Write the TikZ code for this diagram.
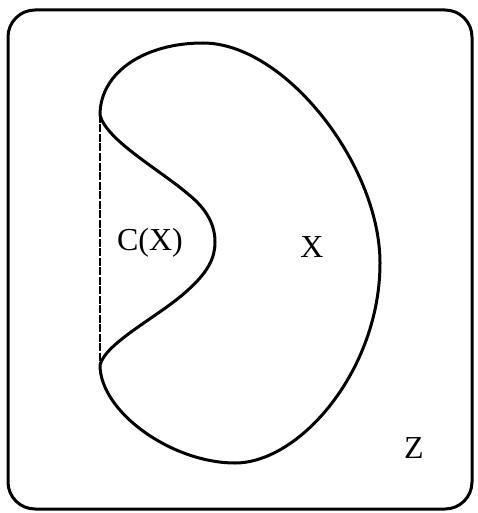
\documentclass[tikz,border=0pt]{standalone}
\usepackage{fontspec}
\setmainfont{Liberation Serif}
\begin{document}
\begin{tikzpicture}[x=1pt,y=-1pt,
  outline/.style={draw=black,line width=3pt},
  chord/.style={draw=black,line width=2.6pt,dash pattern=on 8pt off 1.5pt},
  lbl/.style={font=\fontsize{32}{36}\selectfont,anchor=base,inner sep=0pt}]
\useasboundingbox (0,0) rectangle (477,513);
\draw[outline,rounded corners=27pt] (8,10) rectangle (472,509);
\coordinate (A) at (100,115);
\coordinate (B) at (100,365);
\coordinate (R) at (215,242);
\draw[outline,line join=round]
  (A) .. controls (100,72) and (145,43) .. (203,43)
      .. controls (285,43) and (380,165) .. (380,263)
      .. controls (380,370) and (300,463) .. (235,463)
      .. controls (172,463) and (100,412) .. (B)
      .. controls (106,342) and (160,316) .. (188,290)
      .. controls (208,272) and (215,258) .. (R)
      .. controls (215,226) and (208,210) .. (188,194)
      .. controls (160,170) and (106,140) .. (A) -- cycle;
\draw[chord] (A) -- (B);
\node[lbl] (cx) at (150,250) {C(X)};
\node[lbl] (x) at (312,257) {X};
\node[lbl] (z) at (414,458) {Z};
\end{tikzpicture}
\end{document}
